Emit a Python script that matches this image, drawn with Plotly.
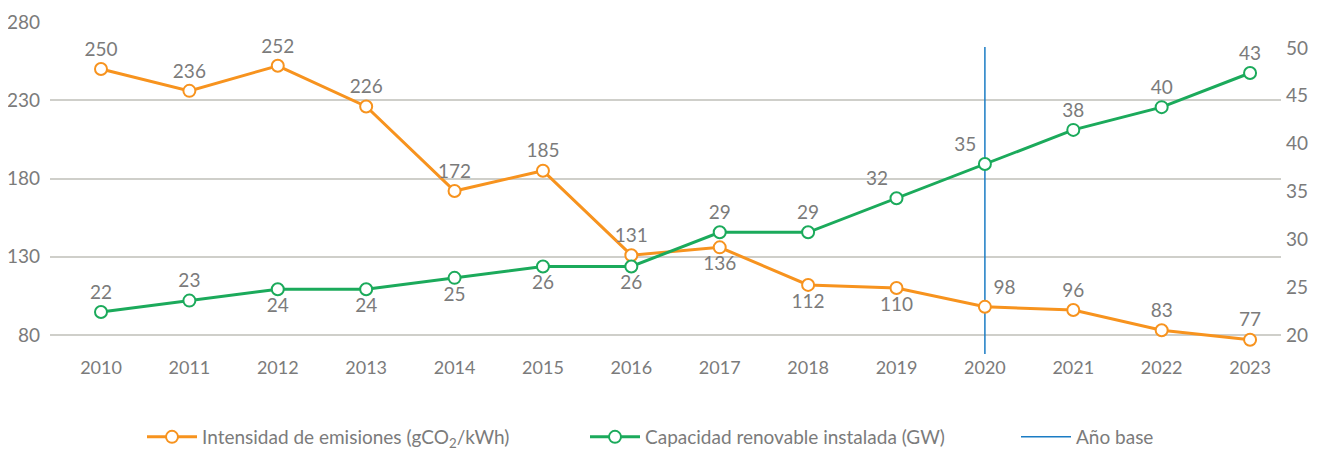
import plotly.graph_objects as go

years = [2010, 2011, 2012, 2013, 2014, 2015, 2016, 2017, 2018, 2019, 2020, 2021, 2022, 2023]
emisiones = [250, 236, 252, 226, 172, 185, 131, 136, 112, 110, 98, 96, 83, 77]
renovable = [22, 23, 24, 24, 25, 26, 26, 29, 29, 32, 35, 38, 40, 43]
base_year = 2020

left_ticks = [80, 130, 180, 230, 280]
right_ticks = [20, 25, 30, 35, 40, 45, 50]

ORANGE = "#F7931E"
GREEN = "#1BAA5B"
BLUE = "#1B7CC4"
GRAY_TXT = "#7B7B7B"
GRID = "#CFCFCA"
FONT = "Lato, Inter, sans-serif"

em_pos = ["top center"] * 6 + ["top center", "bottom center", "bottom center", "bottom center",
                                "top right", "top center", "top center", "top center"]
re_pos = ["top center", "top center", "bottom center", "bottom center", "bottom center",
          "bottom center", "bottom center", "top center", "top center", "top left",
          "top left", "top center", "top center", "top center"]

fig = go.Figure()

fig.add_trace(go.Scatter(
    x=[base_year, base_year], y=[67.8, 264.0], mode="lines",
    line=dict(color=BLUE, width=1.5), name="Año base", legend="legend3",
    hoverinfo="skip", yaxis="y"))

fig.add_trace(go.Scatter(
    x=years, y=emisiones, mode="lines+markers+text",
    name="Intensidad de emisiones (gCO<sub>2</sub>/kWh)", legend="legend",
    line=dict(color=ORANGE, width=3),
    marker=dict(symbol="circle", size=12, color="white", line=dict(color=ORANGE, width=2)),
    text=[str(v) for v in emisiones], textposition=em_pos,
    textfont=dict(color=GRAY_TXT, size=19, family=FONT), yaxis="y"))

fig.add_trace(go.Scatter(
    x=years, y=renovable, mode="lines+markers+text",
    name="Capacidad renovable instalada (GW)", legend="legend2",
    line=dict(color=GREEN, width=3),
    marker=dict(symbol="circle", size=12, color="white", line=dict(color=GREEN, width=2)),
    text=[str(v) for v in renovable], textposition=re_pos,
    textfont=dict(color=GRAY_TXT, size=19, family=FONT), yaxis="y2"))

fig.add_trace(go.Scatter(x=[years[0]], y=[right_ticks[0]], yaxis="y3", mode="markers",
                         marker=dict(opacity=0), showlegend=False, hoverinfo="skip"))

leg_common = dict(orientation="h", y=-0.2455, yanchor="middle", xanchor="left",
                  itemwidth=50, font=dict(size=19, color=GRAY_TXT, family=FONT),
                  bgcolor="rgba(0,0,0,0)")

fig.update_layout(
    width=1318, height=443,
    margin=dict(l=42, r=45, t=13, b=96, autoexpand=False),
    plot_bgcolor="white", paper_bgcolor="white",
    font=dict(family=FONT, color=GRAY_TXT, size=18),
    showlegend=True,
    legend=dict(x=(142 - 50) / 1231, **leg_common),
    legend2=dict(x=(585 - 50) / 1231, **leg_common),
    legend3=dict(x=(1016 - 50) / 1231, **leg_common),
    xaxis=dict(range=[2009.423, 2023.35], tickvals=years, ticktext=[str(y) for y in years],
               showgrid=False, zeroline=False, showline=False, ticks="", automargin=False,
               tickfont=dict(size=18, color=GRAY_TXT)),
    yaxis=dict(range=[67.22, 280.64], tickvals=left_ticks, showgrid=True, gridcolor=GRID,
               gridwidth=1.5, zeroline=False, showline=False, ticks="", automargin=False,
               ticklabelstandoff=9, tickfont=dict(size=19, color=GRAY_TXT)),
    yaxis2=dict(range=[18.22, 47.57], overlaying="y", side="right", showgrid=False,
                zeroline=False, showticklabels=False, ticks="", showline=False, automargin=False),
    yaxis3=dict(range=[17.91, 52.82], overlaying="y", side="right", showgrid=False,
                zeroline=False, tickvals=right_ticks, ticks="", showline=False, automargin=False,
                ticklabelstandoff=4, tickfont=dict(size=19, color=GRAY_TXT)),
)

fig.write_html("out.html")
